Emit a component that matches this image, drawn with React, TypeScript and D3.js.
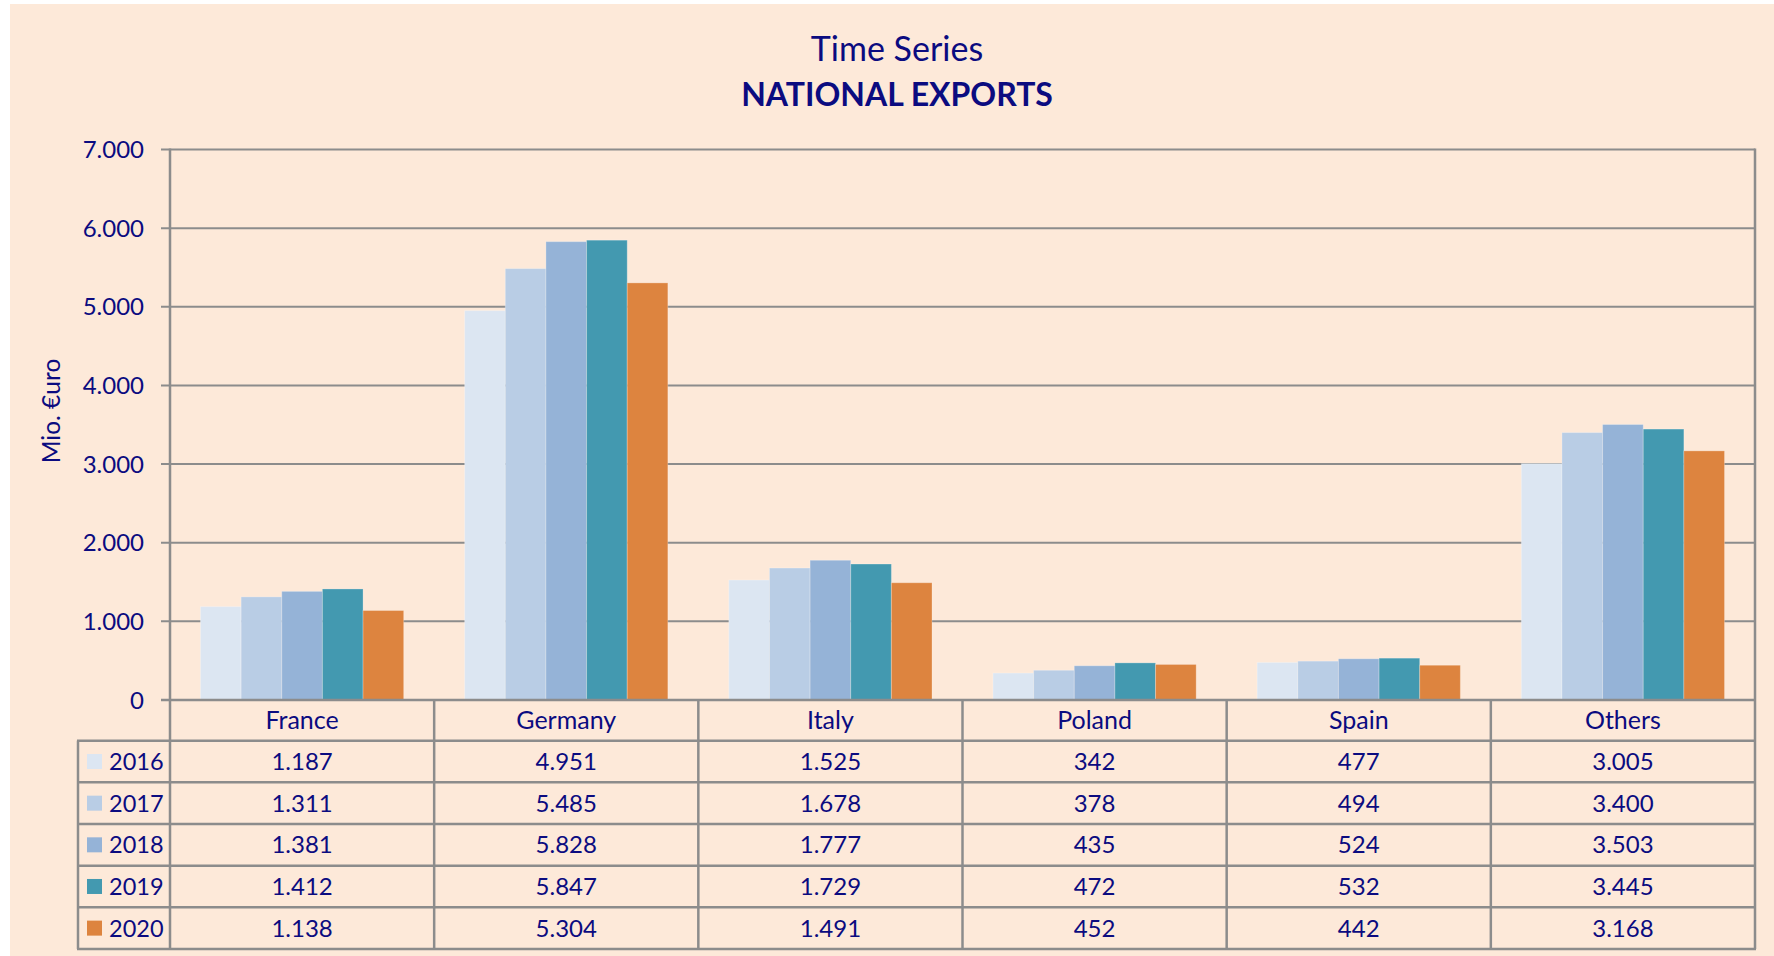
import React from "react";
import * as d3 from "d3";

const categories = ["France", "Germany", "Italy", "Poland", "Spain", "Others"];
const years = ["2016", "2017", "2018", "2019", "2020"];
const values2016 = [1187, 4951, 1525, 342, 477, 3005];
const values2017 = [1311, 5485, 1678, 378, 494, 3400];
const values2018 = [1381, 5828, 1777, 435, 524, 3503];
const values2019 = [1412, 5847, 1729, 472, 532, 3445];
const values2020 = [1138, 5304, 1491, 452, 442, 3168];
const seriesValues = [values2016, values2017, values2018, values2019, values2020];
const colors = ["#DCE6F2", "#B9CDE5", "#95B3D7", "#4399B0", "#DD843F"];
const yTicks = [0, 1000, 2000, 3000, 4000, 5000, 6000, 7000];

const W = 1774;
const H = 956;
const BG = "#FDE9D9";
const TXT = "#0B0B80";
const GRID = "#8C8C8C";
const FONT = "Lato, 'Open Sans', sans-serif";

const fmt = (v: number) => {
  const s = Math.round(v).toString();
  return s.replace(/\B(?=(\d{3})+(?!\d))/g, ".");
};

export default function App() {
  const left = 170;
  const right = 1755;
  const top = 149.5;
  const bottom = 700;
  const legendLeft = 78;
  const headerBottom = 740.7;
  const rowH = 41.65;

  const x = d3.scaleBand<string>().domain(categories).range([left, right]).padding(0);
  const xi = d3
    .scaleBand<string>()
    .domain(years)
    .range([0, x.bandwidth()])
    .paddingInner(0)
    .paddingOuter(0.75);
  const y = d3.scaleLinear().domain([0, 7000]).range([bottom, top]);

  const tableBottom = headerBottom + rowH * years.length;

  return (
    <svg
      width={W}
      height={H}
      style={{ position: "absolute", left: 0, top: 0, display: "block" }}
      fontFamily={FONT}
    >
      <rect x={0} y={0} width={W} height={H} fill="#ffffff" />
      <rect x={10} y={4} width={W - 10} height={H - 4} fill={BG} />

      {/* Titles */}
      <text x={897} y={60.5} textAnchor="middle" fontSize={34} fill={TXT}>
        Time Series
      </text>
      <text x={897} y={105.5} textAnchor="middle" fontSize={32} fontWeight="bold" fill={TXT}>
        NATIONAL EXPORTS
      </text>

      {/* Y axis title */}
      <text
        transform={`translate(60, 411) rotate(-90)`}
        textAnchor="middle"
        fontSize={24.5}
        fill={TXT}
      >
        Mio. €uro
      </text>

      {/* Gridlines and ticks */}
      {yTicks.map((t) => (
        <g key={t}>
          <line x1={161} x2={right} y1={y(t)} y2={y(t)} stroke={GRID} strokeWidth={2} />
          <text
            x={144}
            y={y(t)}
            dy="0.36em"
            textAnchor="end"
            fontSize={24}
            fill={TXT}
          >
            {fmt(t)}
          </text>
        </g>
      ))}

      {/* Bars */}
      {categories.map((c, ci) => (
        <g key={c} transform={`translate(${x(c)},0)`}>
          {years.map((yr, si) => {
            const v = seriesValues[si][ci];
            return (
              <rect
                key={yr}
                x={xi(yr)}
                y={y(v)}
                width={xi.bandwidth()}
                height={bottom - y(v)}
                fill={colors[si]}
                stroke="rgba(255,255,255,0.25)"
                strokeWidth={1}
              />
            );
          })}
        </g>
      ))}

      {/* Axis line at zero */}
      <line x1={161} x2={right} y1={bottom} y2={bottom} stroke={GRID} strokeWidth={2.5} />
      {/* Left and right plot borders */}
      <line x1={left} x2={left} y1={top - 1} y2={tableBottom} stroke={GRID} strokeWidth={2.5} />
      <line x1={right} x2={right} y1={top - 1} y2={tableBottom} stroke={GRID} strokeWidth={2.5} />

      {/* Data table */}
      {categories.map((c, ci) => (
        <g key={c}>
          {ci > 0 && (
            <line
              x1={x(c)}
              x2={x(c)}
              y1={bottom}
              y2={tableBottom}
              stroke={GRID}
              strokeWidth={2.5}
            />
          )}
          <text
            x={(x(c) as number) + x.bandwidth() / 2}
            y={(bottom + headerBottom) / 2}
            dy="0.36em"
            textAnchor="middle"
            fontSize={25}
            fill={TXT}
          >
            {c}
          </text>
          {years.map((yr, si) => (
            <text
              key={yr}
              x={(x(c) as number) + x.bandwidth() / 2}
              y={headerBottom + rowH * si + rowH / 2}
              dy="0.36em"
              textAnchor="middle"
              fontSize={24}
              fill={TXT}
            >
              {fmt(seriesValues[si][ci])}
            </text>
          ))}
        </g>
      ))}

      {/* Legend column */}
      <line
        x1={legendLeft}
        x2={legendLeft}
        y1={headerBottom}
        y2={tableBottom}
        stroke={GRID}
        strokeWidth={2.5}
      />
      {d3.range(years.length + 1).map((i) => (
        <line
          key={i}
          x1={legendLeft - 1}
          x2={right + 1}
          y1={headerBottom + rowH * i}
          y2={headerBottom + rowH * i}
          stroke={GRID}
          strokeWidth={2.5}
        />
      ))}
      {years.map((yr, si) => {
        const cy = headerBottom + rowH * si + rowH / 2;
        return (
          <g key={yr}>
            <rect x={87} y={cy - 7.5} width={15} height={15} fill={colors[si]} />
            <text x={109} y={cy} dy="0.36em" fontSize={23.5} fill={TXT}>
              {yr}
            </text>
          </g>
        );
      })}
    </svg>
  );
}
